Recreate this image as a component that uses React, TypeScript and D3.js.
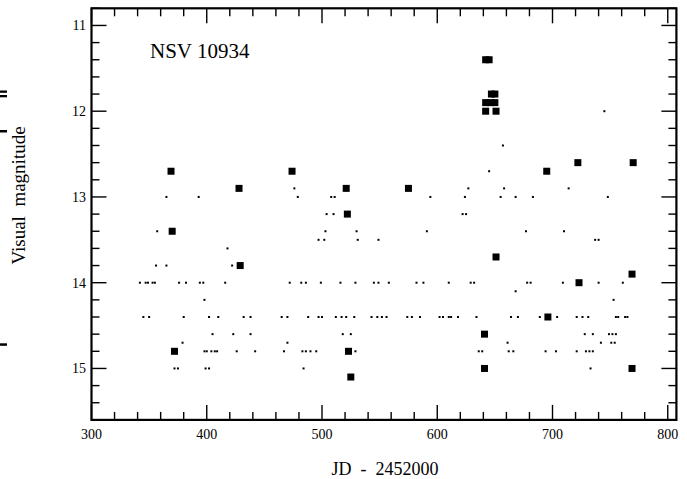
import React from "react";
import * as d3 from "d3";

// ---- data (JD - 2452000, visual magnitude) ----
const bigJD = [369, 370, 372, 428, 429, 474, 521, 522, 523, 525, 575,
  642, 645, 647, 650, 642, 646, 650, 642, 651, 641, 641, 651,
  695, 696, 722, 723, 769, 769, 770];
const bigMag = [12.7, 13.4, 14.8, 12.9, 13.8, 12.7, 12.9, 13.2, 14.8, 15.1, 12.9,
  11.4, 11.4, 11.8, 11.8, 11.9, 11.9, 11.9, 12.0, 12.0, 14.6, 15.0, 13.7,
  12.7, 14.4, 12.6, 14.0, 13.9, 15.0, 12.6];

const dotJD = [
  745,
  657,
  645,
  476, 627, 658, 714,
  365, 393, 479, 508, 511, 594, 624, 655, 668, 683, 748,
  504, 510, 622, 625,
  357, 503, 530, 591, 677, 710,
  497, 502, 531, 549, 737, 740,
  418,
  356, 365, 422,
  342, 347, 349, 353, 355, 376, 382, 394, 397, 416, 472, 482, 486, 499, 516, 529, 545, 549, 558, 582, 588, 610, 629, 632, 678, 681, 709, 740, 761,
  668,
  398, 753,
  345, 350, 380, 402, 410, 432, 438, 465, 470, 488, 497, 500, 512, 517, 521, 528, 543, 548, 552, 556, 574, 578, 585, 602, 605, 610, 612, 618, 634, 664, 670, 689, 704, 721, 726, 731, 755, 757, 763, 765,
  405, 423, 438, 518, 525, 728, 735, 749, 752, 755,
  379, 470, 661, 742, 751, 754,
  398, 400, 404, 407, 409, 426, 442, 467, 483, 486, 490, 495, 529, 636, 639, 662, 666, 694, 703, 721, 729, 732, 735,
  372, 375, 399, 402, 484, 733,
];
const dotRowMag = [12.0, 12.4, 12.7, 12.9, 13.0, 13.2, 13.4, 13.5, 13.6, 13.8, 14.0, 14.1, 14.2, 14.4, 14.6, 14.7, 14.8, 15.0];
const dotRowCount = [1, 1, 1, 4, 11, 4, 6, 6, 1, 3, 29, 1, 2, 40, 10, 6, 23, 6];
const dotMag: number[] = dotRowMag.flatMap((m, i) => Array(dotRowCount[i]).fill(m));

const xMajorTicks = [300, 400, 500, 600, 700, 800];
const yMajorTicks = [11, 12, 13, 14, 15];
const titleText = "NSV 10934";
const xTitle = "JD  -  2452000";
const yTitle = "Visual  magnitude";

// ---- layout ----
const W = 687, H = 479;
const x = d3.scaleLinear().domain([300, 807.5]).range([91.5, 676.4]);
const y = d3.scaleLinear().domain([10.8, 15.6]).range([8.3, 419.9]);
const xMinorTicks = d3.range(300, 801, 20);
const yMinorTicks = d3.range(54, 79).map((i) => i / 5);
const FONT = "'Liberation Serif', 'Times New Roman', serif";

export default function App() {
  const [x0, x1] = x.range();
  const [y0, y1] = y.range();
  const MAJ = 15, MIN = 8;
  const big = 7, small = 2;
  return (
    <svg width={W} height={H} style={{ position: "absolute", left: 0, top: 0, background: "#fff" }}
      fontFamily={FONT}>
      <rect x={0} y={0} width={W} height={H} fill="#fff" />
      {/* cropped edge fragments */}
      <rect x={0} y={90.5} width={7} height={2.3} fill="#000" />
      <rect x={0} y={95} width={7} height={2.3} fill="#000" />
      <rect x={0} y={130} width={7} height={2.5} fill="#000" />
      <rect x={0} y={343.3} width={7} height={2.5} fill="#000" />

      <g stroke="#000" strokeWidth={1.4}>
        {xMinorTicks.map((t) => {
          const L = t % 100 === 0 ? MAJ : MIN;
          return (
            <g key={"xt" + t}>
              <line x1={x(t)} x2={x(t)} y1={y1} y2={y1 - L} />
              <line x1={x(t)} x2={x(t)} y1={y0} y2={y0 + L} />
            </g>
          );
        })}
        {yMinorTicks.map((t) => {
          const L = Math.abs(t - Math.round(t)) < 1e-6 ? MAJ : MIN;
          return (
            <g key={"yt" + t}>
              <line x1={x0} x2={x0 + L} y1={y(t)} y2={y(t)} />
              <line x1={x1} x2={x1 - L} y1={y(t)} y2={y(t)} />
            </g>
          );
        })}
      </g>
      <rect x={x0} y={y0} width={x1 - x0} height={y1 - y0} fill="none" stroke="#000" strokeWidth={2.2} />

      {xMajorTicks.map((t) => (
        <text key={"xl" + t} x={x(t)} y={439} textAnchor="middle" fontSize={14} fill="#000">{t}</text>
      ))}
      {yMajorTicks.map((t) => (
        <text key={"yl" + t} x={86} y={y(t) + 4.8} textAnchor="end" fontSize={14} fill="#000">{t}</text>
      ))}

      <text x={150} y={58} fontSize={21} fill="#000">{titleText}</text>
      <text x={385} y={475} textAnchor="middle" fontSize={18} fill="#000" style={{ whiteSpace: "pre" }}>{xTitle}</text>
      <text transform={`translate(25,195.5) rotate(-90)`} textAnchor="middle" fontSize={19} fill="#000"
        style={{ whiteSpace: "pre" }}>{yTitle}</text>

      <g fill="#000">
        {dotJD.map((d, i) => (
          <rect key={"d" + i} x={x(d) - small / 2} y={y(dotMag[i]) - small / 2} width={small} height={small} />
        ))}
        {bigJD.map((d, i) => (
          <rect key={"b" + i} x={x(d) - big / 2} y={y(bigMag[i]) - big / 2} width={big} height={big} />
        ))}
      </g>
    </svg>
  );
}
